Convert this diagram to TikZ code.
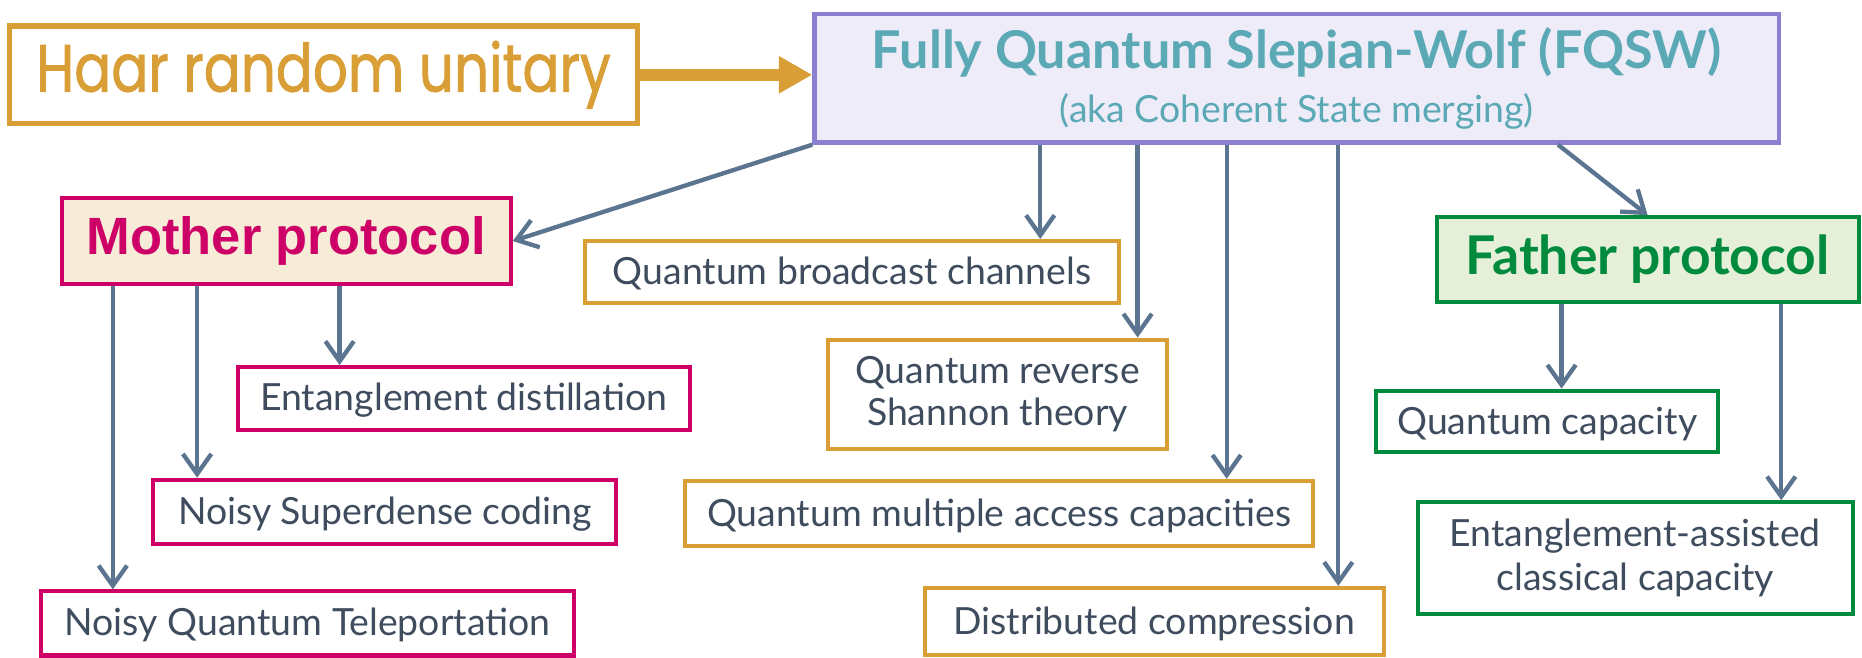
\documentclass[tikz,border=0pt]{standalone}
\usepackage{fontspec}
\setmainfont{Lato}
\newfontfamily\haarfont[FakeStretch=0.82,FakeBold=1.2]{Poppins}
\newfontfamily\arialfont{Liberation Sans}
\usetikzlibrary{arrows.meta}
\definecolor{qtext}{HTML}{3E4C5E}
\definecolor{qlink}{HTML}{5B7590}
\definecolor{qorange}{HTML}{D99E35}
\definecolor{qmagenta}{HTML}{CC0066}
\definecolor{qgreen}{HTML}{008A3E}
\definecolor{qteal}{HTML}{5AA9B5}
\definecolor{qpurple}{HTML}{8B80D0}
\definecolor{fqfill}{HTML}{EFECF9}
\definecolor{motherfill}{HTML}{F7ECD8}
\definecolor{fatherfill}{HTML}{E6F0D9}

\begin{document}
\begin{tikzpicture}[
  x=0.0125cm, y=-0.0125cm,
  box/.style={draw, line width=1.2pt, inner sep=0pt, align=center, text=qtext,
    font=\fontsize{11.2}{13}\selectfont},
  oneline/.style={text height=9pt, text depth=1.5pt},
  orangebox/.style={box, draw=qorange},
  pinkbox/.style={box, draw=qmagenta},
  greenbox/.style={box, draw=qgreen},
  link/.style={draw=qlink, line width=1.3pt, -{Straight Barb[length=6pt,width=8.5pt]}},
  bigarrow/.style={draw=qorange, line width=3.6pt, -{Triangle[length=10pt,width=10.5pt]}},
]
\useasboundingbox (0,0) rectangle (1568,554);

% ---------- top row ----------
\node[box, draw=qorange, line width=1.7pt, minimum width=6.61cm, minimum height=1.025cm,
  text=qorange, font=\haarfont\fontsize{20}{22}\selectfont] (haar) at (272.5,63) {Haar random unitary};
\node[box, draw=qpurple, fill=fqfill, line width=1.3pt, minimum width=10.15cm, minimum height=1.35cm,
  text=qteal, font=\bfseries\fontsize{15.6}{16}\selectfont] (fqsw) at (1092,66)
  {Fully Quantum Slepian-Wolf (FQSW)\\[0pt]{\mdseries\fontsize{11.2}{13}\selectfont (aka Coherent State merging)}};
\draw[bigarrow] (haar.east) -- (haar.east -| fqsw.west);

% ---------- mother protocol and its children ----------
\node[pinkbox, fill=motherfill, minimum width=4.725cm, minimum height=0.9cm, text=qmagenta,
  font=\arialfont\bfseries\fontsize{15.7}{17}\selectfont] (mother) at (241,203) {Mother protocol};
\node[pinkbox, oneline, minimum width=4.76cm, minimum height=0.66cm] (distill) at (390.5,335.5) {Entanglement distillation};
\node[pinkbox, oneline, minimum width=4.875cm, minimum height=0.675cm] (dense) at (324,431) {Noisy Superdense coding};
\node[pinkbox, oneline, minimum width=5.6cm, minimum height=0.675cm] (tele) at (259,525) {Noisy Quantum Teleportation};

% ---------- direct consequences of FQSW ----------
\node[orangebox, oneline, minimum width=5.61cm, minimum height=0.65cm] (bcast) at (717.5,229) {Quantum broadcast channels};
\node[orangebox, minimum width=3.575cm, minimum height=1.15cm, font=\fontsize{11.2}{12.6}\selectfont] (reverse) at (840,332)
  {Quantum reverse\\Shannon theory};
\node[orangebox, oneline, minimum width=6.61cm, minimum height=0.69cm] (mac) at (841.5,432.5) {Quantum multiple access capacities};
\node[orangebox, oneline, minimum width=4.825cm, minimum height=0.71cm] (dist) at (972,523.5) {Distributed compression};

% ---------- father protocol and its children ----------
\node[greenbox, fill=fatherfill, minimum width=4.44cm, minimum height=0.89cm, text=qgreen,
  font=\bfseries\fontsize{16}{17}\selectfont] (father) at (1387.5,218.5) {Father protocol};
\node[greenbox, oneline, minimum width=3.6cm, minimum height=0.65cm] (qcap) at (1303,355) {Quantum capacity};
\node[greenbox, minimum width=4.575cm, minimum height=1.175cm, font=\fontsize{11.2}{13.2}\selectfont] (eacc) at (1377,470)
  {Entanglement-assisted\\classical capacity};

% x positions of the vertical links
\coordinate (xb) at (876,0);
\coordinate (xr) at (958,0);
\coordinate (xm) at (1033,0);
\coordinate (xd) at (1127,0);
\coordinate (xf) at (1312,0);
\coordinate (xt) at (95,0);
\coordinate (xs) at (166,0);
\coordinate (xe) at (286,0);
\coordinate (xq) at (1315,0);
\coordinate (xa) at (1500,0);

% ---------- links ----------
\draw[link] (fqsw.south west) -- (mother.east);
\draw[link] (fqsw.south -| xb) -- (bcast.north -| xb);
\draw[link] (fqsw.south -| xr) -- (reverse.north -| xr);
\draw[link] (fqsw.south -| xm) -- (mac.north -| xm);
\draw[link] (fqsw.south -| xd) -- (dist.north -| xd);
\draw[link] (fqsw.south -| xf) -- (father.north);
\draw[link] (mother.south -| xt) -- (tele.north -| xt);
\draw[link] (mother.south -| xs) -- (dense.north -| xs);
\draw[link] (mother.south -| xe) -- (distill.north -| xe);
\draw[link] (father.south -| xq) -- (qcap.north -| xq);
\draw[link] (father.south -| xa) -- (eacc.north -| xa);
\end{tikzpicture}
\end{document}
